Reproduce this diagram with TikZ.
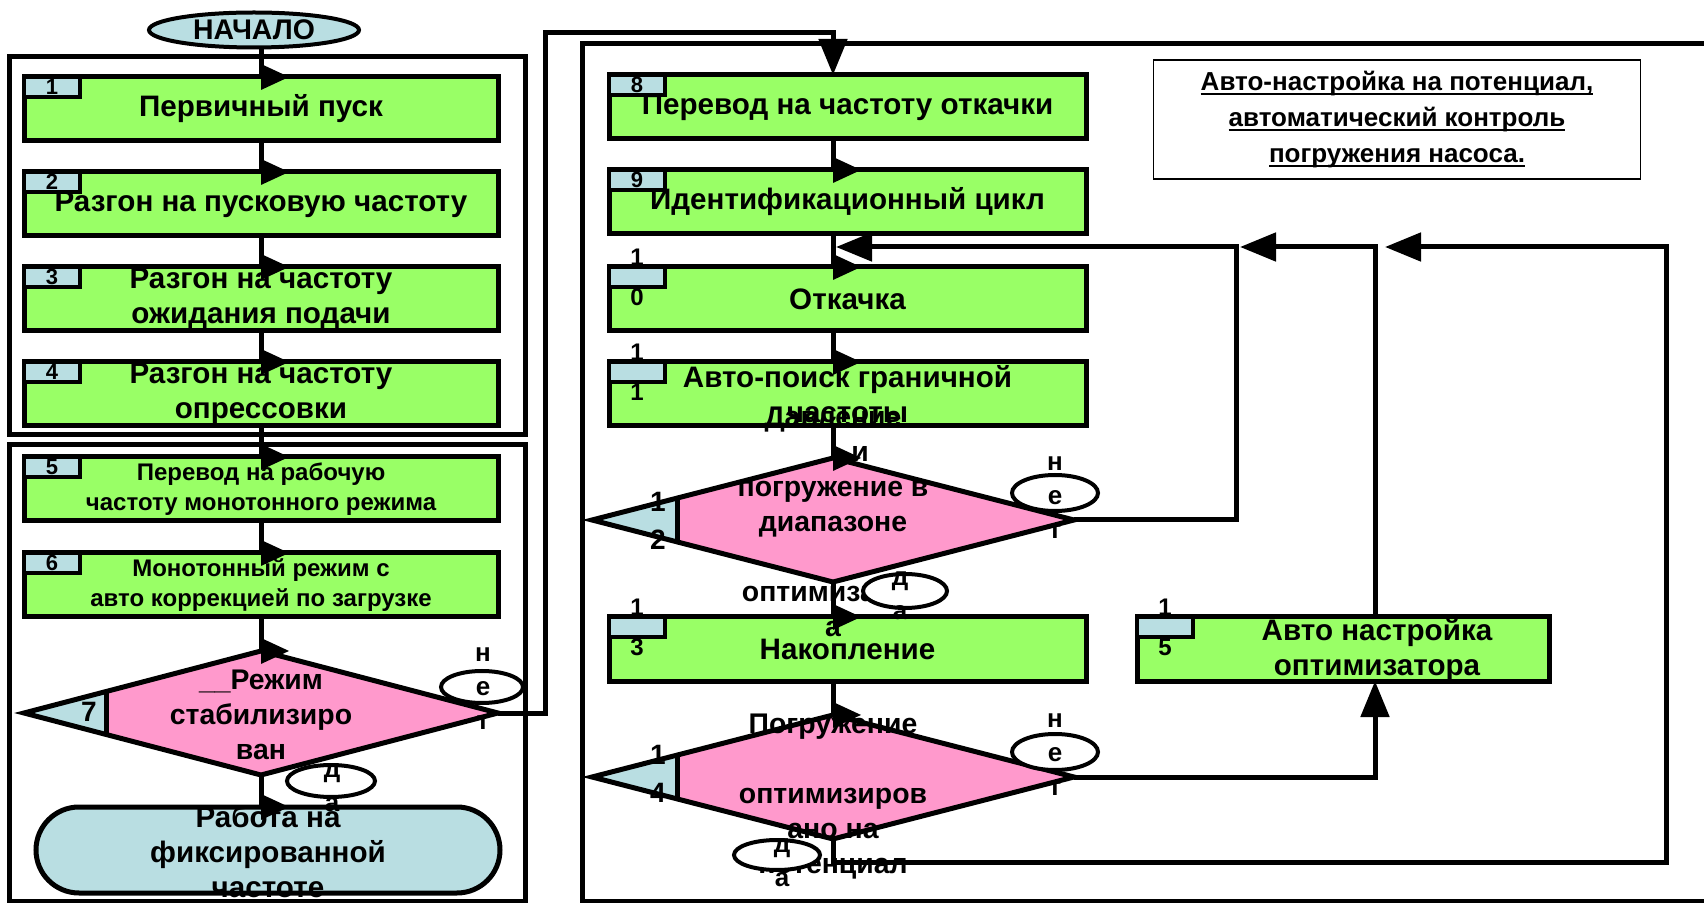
\documentclass[tikz,border=0pt]{standalone}
\usepackage{fontspec}
\setmainfont{Liberation Sans}
\usetikzlibrary{shapes.geometric,arrows.meta,decorations.markings,calc}
\definecolor{boxgreen}{RGB}{153,255,102}
\definecolor{tabblue}{RGB}{185,222,226}
\definecolor{dpink}{RGB}{255,153,204}
\newcommand*\FntMain{\fontsize{14.8pt}{17.5pt}\selectfont\bfseries}
\newcommand*\FntDia{\fontsize{14.2pt}{17.5pt}\selectfont\bfseries}
\newcommand*\FntSmall{\fontsize{12pt}{15pt}\selectfont\bfseries}
\newcommand*\FntTitle{\fontsize{13pt}{18pt}\selectfont\bfseries}
\newcommand*\FntOval{\fontsize{13pt}{17pt}\selectfont\bfseries}
\newcommand*\FntTab{\fontsize{11pt}{12pt}\selectfont\bfseries}
\newcommand*\FntSplit{\fontsize{12pt}{20pt}\selectfont\bfseries}
\newcommand*\FntDiaNum{\fontsize{14pt}{19pt}\selectfont\bfseries}
\newcommand*\ULn[1]{\leavevmode\setbox0\hbox{#1}\rlap{\rule[-2.4pt]{\wd0}{1pt}}\box0}
\begin{document}
\begin{tikzpicture}[x=0.5pt,y=-0.5pt,
  frame/.style={draw,line width=2.5pt},
  gbox/.style={draw,fill=boxgreen,line width=2.5pt,minimum width=237pt,minimum height=32pt,inner sep=0pt,outer sep=0pt,align=center,font=\FntMain},
  gboxs/.style={gbox,font=\FntSmall},
  tabbox/.style={draw,fill=tabblue,line width=2pt,minimum width=28pt,minimum height=10pt,inner sep=0pt,outer sep=0pt,anchor=north west},
  tabnum/.style={inner sep=0pt,font=\FntTab},
  splitnum/.style={inner sep=0pt,align=center,font=\FntSplit},
  dianum/.style={inner sep=0pt,align=center,font=\FntDiaNum},
  dia/.style={diamond,fill=dpink,minimum width=237pt,minimum height=62pt,inner sep=0pt,outer sep=0pt},
  diatxt/.style={inner sep=0pt,align=center,font=\FntDia},
  boxtxt/.style={inner sep=0pt,align=center,font=\FntMain},
  oval/.style={ellipse,draw,fill=white,line width=2pt,inner sep=0pt,outer sep=0pt},
  ovtxt/.style={inner sep=0pt,align=center,font=\FntOval},
  conn/.style={line width=2.5pt},
  flow/.style={conn,postaction={decorate},decoration={markings,mark=at position 0.999 with {\fill (-6.5pt,0pt) -- (0pt,14pt) -- (6.5pt,0pt) -- cycle;}}},
  arr/.style={conn,-{Triangle[length=18pt,width=14pt]}},
  outl/.style={line width=2.5pt},
]
\useasboundingbox (0,0) rectangle (1704,903);
\coordinate (colL) at (261,0);
\coordinate (colR) at (833,0);

% frames
\draw[frame] (9,57) rectangle (525,435);
\draw[frame] (9,445) rectangle (525,901);
\draw[frame] (582,44) rectangle (1730,901);

% title
\node[draw,line width=0.8pt,minimum width=243.5pt,minimum height=59.5pt,inner sep=0pt,align=center,font=\FntTitle] (title) at (1397,119.5)
  {\ULn{Авто-настройка на потенциал,}\\\ULn{автоматический контроль}\\\ULn{погружения насоса.}};

% start
\node[draw,ellipse,fill=tabblue,line width=2pt,minimum width=105pt,minimum height=17.5pt,inner sep=0pt,outer sep=0pt,font=\FntDia] (start) at (254,30) {НАЧАЛО};

% left boxes
\node[gbox] (b1) at (261,109) {Первичный пуск};
\node[gbox] (b2) at (261,204) {Разгон на пусковую частоту};
\node[gbox] (b3) at (261,299) {Разгон на частоту\\ожидания подачи};
\node[gbox] (b4) at (261,394) {Разгон на частоту\\опрессовки};
\node[gboxs] (b5) at (261,489) {Перевод на рабочую\\частоту монотонного режима};
\node[gboxs] (b6) at (261,585) {Монотонный режим с\\авто коррекцией по загрузке};

% right boxes
\node[gbox,minimum width=238.5pt] (b8) at (847.5,107) {Перевод на частоту откачки};
\node[gbox,minimum width=238.5pt] (b9) at (847.5,202) {Идентификационный цикл};
\node[gbox,minimum width=238.5pt] (b10) at (847.5,299) {Откачка};
\node[gbox,minimum width=238.5pt] (b11) at (847.5,394) {Авто-поиск граничной\\частоты};
\node[gbox,minimum width=238.5pt] (b13) at (847.5,649) {Накопление};
\node[gbox,minimum width=206pt] (b15) at (1343,649) {};
\node[boxtxt] (tx15) at (1377,650) {Авто настройка\\оптимизатора};

% tabs
\foreach \b in {b1,b2,b3,b4,b5,b6,b8,b9,b10,b11,b13,b15}{
  \node[tabbox] (t\b) at (\b.north west) {};
}

% diamonds
\node[dia] (d7) at (261,713) {};
\node[dia,minimum width=241pt] (d12) at (833,520) {};
\node[dia,minimum width=241pt] (d14) at (833,777) {};
\fill[tabblue] (d7.west) -- ($(d7.west)!0.346!(d7.north)$) -- ($(d7.west)!0.346!(d7.south)$) -- cycle;
\draw[outl] ($(d7.west)!0.346!(d7.north)$) -- ($(d7.west)!0.346!(d7.south)$);
\draw[outl] (d7.west) -- (d7.north) -- (d7.east) -- (d7.south) -- cycle;
\foreach \d in {d12,d14}{
  \fill[tabblue] (\d.west) -- ($(\d.west)!0.353!(\d.north)$) -- ($(\d.west)!0.353!(\d.south)$) -- cycle;
  \draw[outl] ($(\d.west)!0.353!(\d.north)$) -- ($(\d.west)!0.353!(\d.south)$);
  \draw[outl] (\d.west) -- (\d.north) -- (\d.east) -- (\d.south) -- cycle;
}

% terminal
\node[draw,fill=tabblue,line width=2.5pt,rounded corners=21.5pt,minimum width=232pt,minimum height=43pt,inner sep=0pt,outer sep=0pt] (term) at (268,850) {};

% connectors (left)
\draw[flow] (start.south -| colL) -- (b1.north);
\draw[flow] (b1) -- (b2);
\draw[flow] (b2) -- (b3);
\draw[flow] (b3) -- (b4);
\draw[flow] (b4) -- (b5);
\draw[flow] (b5) -- (b6);
\draw[flow] (b6) -- (d7.north);
\draw[flow] (d7.south) -- (d7.south |- term.north);
% connectors (right)
\draw[flow] (b8.south -| colR) -- (b9.north -| colR);
\draw[flow] (b9.south -| colR) -- (b10.north -| colR);
\draw[flow] (b10.south -| colR) -- (b11.north -| colR);
\draw[flow] (b11.south -| colR) -- (d12.north);
\draw[flow] (d12.south) -- (b13.north -| colR);
\draw[flow] (b13.south -| colR) -- (d14.north);

% loops
\coordinate (colB) at (1375,0);
\coordinate (fb1) at (836,247);
\coordinate (fb2) at (1240,247);
\coordinate (fb3) at (1385,247);
\draw[arr] (d7.east) -| (545,33) -| (b8.north -| colR);
\draw[arr] (d12.east) -| (1236,247) -- (fb1);
\draw[arr] (b15.north -| colB) |- (fb2);
\draw[arr] (d14.south) |- (1666,862) |- (fb3);
\draw[arr] (d14.east) -| (b15.south -| colB);

% diamond and terminal texts
\node[diatxt] (t7) at (261,715) {\_\_Режим\\стабилизиро\\ван};
\node[diatxt] (t12) at (833,522) {Давление\\\hspace*{27pt}и\\погружение в\\диапазоне\\\mbox{}\\оптимизатор\\а};
\node[diatxt] (t14) at (833,797) {Погружение\\\mbox{}\\оптимизиров\\ано на\\потенциал};
\node[boxtxt] (tterm) at (268,852) {Работа на\\фиксированной\\частоте};

% yes/no ovals
\node[oval,minimum width=41pt,minimum height=16pt] (o7n) at (482,687) {};
\node[ovtxt] (l7n) at (483,689) {н\\е\\т};
\node[oval,minimum width=44pt,minimum height=16pt] (o7d) at (331,781) {};
\node[ovtxt] (l7d) at (332,788) {д\\а};
\node[oval,minimum width=43pt,minimum height=18pt] (o12n) at (1055,493) {};
\node[ovtxt] (l12n) at (1055,498) {н\\е\\т};
\node[oval,minimum width=42pt,minimum height=17pt] (o12d) at (905,591) {};
\node[ovtxt] (l12d) at (900,596) {д\\а};
\node[oval,minimum width=43pt,minimum height=18pt] (o14n) at (1055,752) {};
\node[ovtxt] (l14n) at (1055,755) {н\\е\\т};
\node[oval,minimum width=43pt,minimum height=15pt] (o14d) at (777,855) {};
\node[ovtxt] (l14d) at (782,863) {д\\а};

% tab numbers
\node[tabnum] (n1) at (tb1) {1};
\node[tabnum] (n2) at (tb2) {2};
\node[tabnum] (n3) at (tb3) {3};
\node[tabnum] (n4) at (tb4) {4};
\node[tabnum] (n5) at (tb5) {5};
\node[tabnum] (n6) at (tb6) {6};
\node[tabnum] (n8) at (tb8) {8};
\node[tabnum] (n9) at (tb9) {9};
\node[splitnum] (n10) at (tb10) {1\\0};
\node[splitnum] (n11) at (tb11) {1\\1};
\node[splitnum] (n13) at (tb13) {1\\3};
\node[splitnum] (n15) at (tb15) {1\\5};
\node[dianum] (n7) at (89,712) {7};
\node[dianum] (n12) at (658,521) {1\\2};
\node[dianum] (n14) at (658,774) {1\\4};
\end{tikzpicture}
\end{document}
